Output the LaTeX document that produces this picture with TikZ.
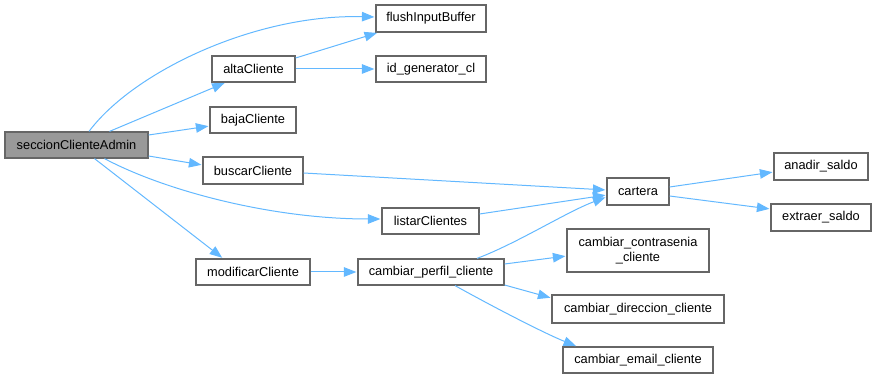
\documentclass[tikz,border=0pt]{standalone}
\usepackage{fontspec}
\setmainfont{Liberation Sans}
\usetikzlibrary{arrows.meta}
\definecolor{edgeblue}{HTML}{63B8FF}
\definecolor{boxborder}{HTML}{666666}
\definecolor{rootfill}{HTML}{999999}
\tikzset{
  fn/.style={draw=boxborder, line width=1.2pt, fill=white, inner sep=0pt,
    font=\fontsize{12.8}{14.5}\selectfont, align=center, anchor=center},
  rootfn/.style={fn, fill=rootfill},
  call/.style={draw=edgeblue, line width=1pt, shorten >=1pt,
    -{Triangle[length=12.5pt,width=9.5pt,fill=edgeblue]}},
}
\begin{document}
\begin{tikzpicture}[x=1pt,y=-1pt]
\useasboundingbox (0,0) rectangle (876,379);

% functions
\node[rootfn, minimum width=143pt, minimum height=26pt] (sec) at (76.5,145) {seccionClienteAdmin};
\node[fn, minimum width=83pt, minimum height=26pt] (alta) at (253.5,69) {altaCliente};
\node[fn, minimum width=86pt, minimum height=26pt] (baja) at (253,120) {bajaCliente};
\node[fn, minimum width=100pt, minimum height=27pt] (buscar) at (253,170.5) {buscarCliente};
\node[fn, minimum width=110pt, minimum height=27pt] (flush) at (431,18.5) {flushInputBuffer};
\node[fn, minimum width=110pt, minimum height=26pt] (idgen) at (431,69) {id\_generator\_cl};
\node[fn, minimum width=97pt, minimum height=26pt] (listar) at (430.5,221) {listarClientes};
\node[fn, minimum width=114pt, minimum height=26pt] (modif) at (253,272) {modificarCliente};
\node[fn, minimum width=146pt, minimum height=26pt] (perfil) at (431,272) {cambiar\_perfil\_cliente};
\node[fn, minimum width=62pt, minimum height=27pt] (cartera) at (638,191.5) {cartera};
\node[fn, minimum width=94pt, minimum height=27pt] (anadir) at (821,166.5) {anadir\_saldo};
\node[fn, minimum width=100pt, minimum height=27pt] (extraer) at (821,217.5) {extraer\_saldo};
\node[fn, minimum width=142pt, minimum height=43pt] (contra) at (638,250.5) {cambiar\_contrasenia\\\_cliente};
\node[fn, minimum width=172pt, minimum height=28pt] (direc) at (638,309) {cambiar\_direccion\_cliente};
\node[fn, minimum width=150pt, minimum height=26pt] (email) at (638,360) {cambiar\_email\_cliente};

% calls from seccionClienteAdmin
\draw[call] ([xshift=12.5pt]sec.north) .. controls +(45,-60) and +(-120,-3) .. ([yshift=1.5pt]flush.west);
\draw[call] ([xshift=33pt]sec.north) -- ([xshift=-28pt]alta.south);
\draw[call] ([yshift=10pt]sec.east) -- ([yshift=-6pt]baja.west);
\draw[call] ([yshift=-11pt]sec.east) -- ([yshift=5.5pt]buscar.west);
\draw[call] ([xshift=28pt]sec.south) .. controls +(60,32) and +(-110,0) .. ([yshift=2pt]listar.west);
\draw[call] ([xshift=18pt]sec.south) -- ([xshift=-30pt]modif.north);

% calls from altaCliente
\draw[call] ([yshift=11pt]alta.east) -- ([xshift=-53pt]flush.south);
\draw[call] (alta.east) -- (idgen.west);

% calls reaching cartera
\draw[call] ([yshift=-2.5pt]buscar.east) -- ([yshift=1.5pt]cartera.west);
\draw[call] ([yshift=7pt]listar.east) -- ([yshift=-3.5pt]cartera.west);
\draw[call] ([xshift=46pt]perfil.north) .. controls +(40,-15) and +(-40,15) .. ([yshift=-5.5pt]cartera.west);

% calls from cartera
\draw[call] ([yshift=4.5pt]cartera.east) -- ([yshift=-5.5pt]anadir.west);
\draw[call] ([yshift=-4.5pt]cartera.east) -- ([yshift=8.5pt]extraer.west);

% calls from modificarCliente and cambiar_perfil_cliente
\draw[call] (modif.east) -- (perfil.west);
\draw[call] ([yshift=8pt]perfil.east) -- ([yshift=-5.5pt]contra.west);
\draw[call] ([yshift=-13pt]perfil.east) -- ([yshift=11pt]direc.west);
\draw[call] ([xshift=24pt]perfil.south) .. controls +(45,25) and +(-30,-12) .. ([xshift=-61pt]email.north);
\end{tikzpicture}
\end{document}
